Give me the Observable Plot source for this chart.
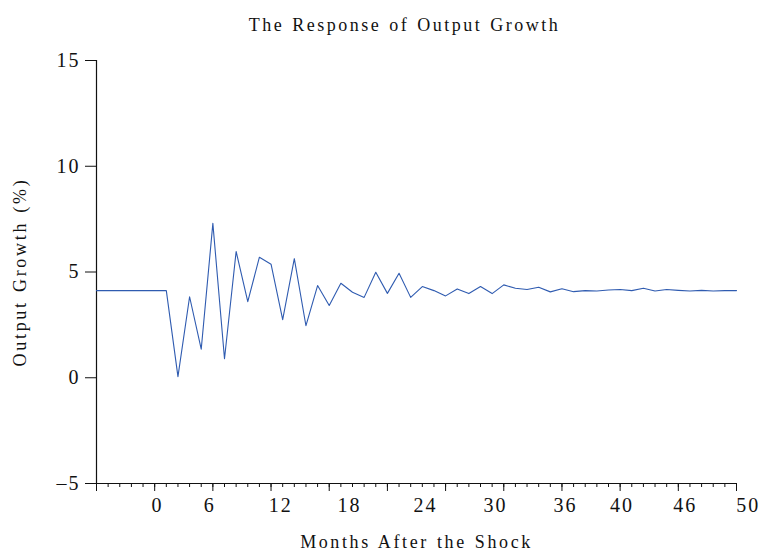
<!DOCTYPE html>
<html><head><meta charset="utf-8">
<script src="https://cdn.jsdelivr.net/npm/d3@7"></script>
<script src="https://cdn.jsdelivr.net/npm/@observablehq/plot@0.6"></script>
<style>body{margin:0;background:#fff}</style>
</head><body><div id="chart"></div>
<script>
const months = [-5,-4,-3,-2,-1,0,1,2,3,4,5,6,7,8,9,10,11,12,13,14,15,16,17,18,19,20,21,22,23,24,25,26,27,28,29,30,31,32,33,34,35,36,37,38,39,40,41,42,43,44,45,46,47,48,49,50];
const growth = [4.12,4.12,4.12,4.12,4.12,4.12,4.12,0.05,3.83,1.35,7.3,0.9,5.97,3.6,5.7,5.37,2.75,5.63,2.46,4.36,3.42,4.47,4.04,3.8,4.99,3.99,4.94,3.8,4.31,4.12,3.87,4.2,3.98,4.31,3.98,4.39,4.23,4.17,4.28,4.06,4.21,4.07,4.12,4.1,4.15,4.17,4.12,4.23,4.1,4.17,4.13,4.1,4.13,4.1,4.12,4.12];
const xMajorTicks = [-5,0,5,10,15,20,25,30,35,40,45,50];
const xMinorTicks = months;
const xTickLabels = ["0","6","12","18","24","30","36","40","46","50"];
const xTickLabelPos = [0.24,4.73,10.83,16.75,23.28,29.29,35.3,40.17,45.6,51.0];
const yTicks = [-5,0,5,10,15];
const title = "The Response of Output Growth";
const xTitle = "Months After the Shock";
const yTitle = "Output Growth (%)";

const data = months.map((m, i) => ({m, v: growth[i]}));
const font = "'Liberation Serif', 'Times New Roman', serif";

const chart = Plot.plot({
  width: 762, height: 557,
  marginTop: 60, marginBottom: 74, marginLeft: 96, marginRight: 26,
  x: {domain: [-5, 50]},
  y: {domain: [-5, 15]},
  style: {fontFamily: font, background: "white", color: "#111"},
  marks: [
    Plot.axisX(xMinorTicks, {tickSize: 4, text: null, label: null, strokeWidth: 1}),
    Plot.axisX(xMajorTicks, {tickSize: 8, text: null, label: null, strokeWidth: 1}),
    Plot.axisX(xTickLabelPos, {tickSize: 0, tickPadding: 14, fontSize: 19,
      tickFormat: (d, i) => xTickLabels[i], label: null}),
    Plot.axisY(yTicks, {tickSize: 11, tickPadding: 5, fontSize: 19, label: null,
      tickFormat: d => d < 0 ? "\u2013" + Math.abs(d) : String(d)}),
    Plot.ruleY([-5], {stroke: "#111", strokeWidth: 1.2}),
    Plot.ruleX([-5], {stroke: "#111", strokeWidth: 1.2}),
    Plot.lineY(data, {x: "m", y: "v", stroke: "#2f5bb0", strokeWidth: 1.1}),
    Plot.text([title], {frameAnchor: "top", dx: -12, dy: -42, fontSize: 18}),
    Plot.text([xTitle], {frameAnchor: "bottom", dy: 64, fontSize: 18}),
    Plot.text([yTitle], {frameAnchor: "left", textAnchor: "middle", dx: -76, rotate: -90, fontSize: 18})
  ]
});
// letter spacing of the reference typesetting
const spacing = {[title]: 2.5, [xTitle]: 2.6, [yTitle]: 2.7};
chart.querySelectorAll("text").forEach(t => {
  const s = t.textContent;
  if (s in spacing) { t.style.letterSpacing = spacing[s] + "px"; t.style.wordSpacing = "1px"; }
});
chart.querySelectorAll('g[aria-label="x-axis tick label"], g[aria-label="y-axis tick label"]').forEach(g => {
  g.setAttribute("font-size", 20);
  g.style.fontSize = "20px";
  g.querySelectorAll("text").forEach(t => { t.style.letterSpacing = "2px"; t.style.fontSize = "20px"; });
});
document.getElementById("chart").appendChild(chart);
</script>
</body></html>
